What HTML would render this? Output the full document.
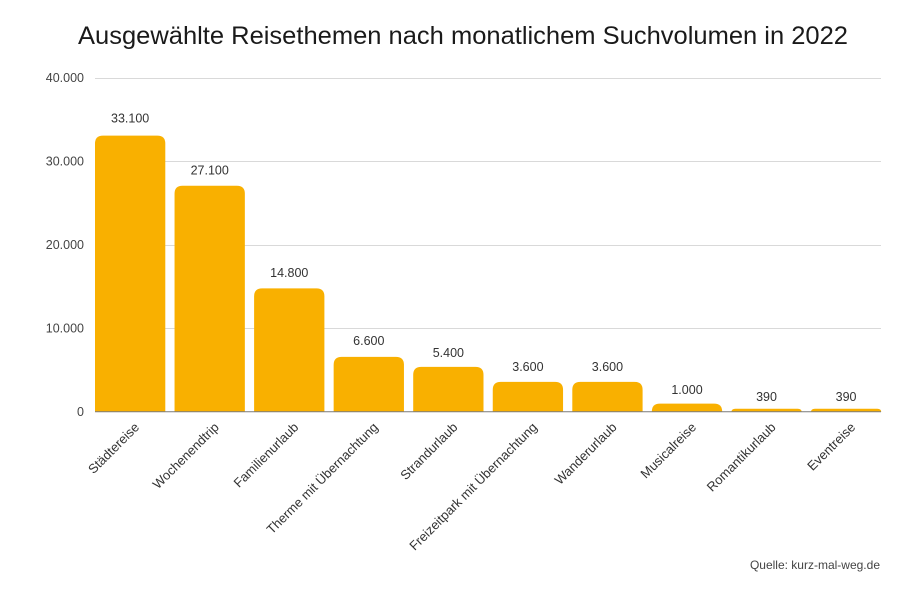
<!DOCTYPE html>
<html>
<head>
<meta charset="utf-8">
<style>
  html,body{margin:0;padding:0;background:#fff;}
  svg{display:block;}
  text{font-family:"Liberation Sans",Arial,sans-serif;}
</style>
</head>
<body>
<svg width="908" height="596" viewBox="0 0 908 596" xmlns="http://www.w3.org/2000/svg">
  <rect width="908" height="596" fill="#fff"/>
  <!-- Title -->
  <text x="78" y="44" font-size="25" fill="#1a1a1a" textLength="770" lengthAdjust="spacingAndGlyphs">Ausgewählte Reisethemen nach monatlichem Suchvolumen in 2022</text>

  <!-- Gridlines -->
  <g stroke="#d9d9d9" stroke-width="1">
    <line x1="95" y1="78.5" x2="881" y2="78.5"/>
    <line x1="95" y1="161.5" x2="881" y2="161.5"/>
    <line x1="95" y1="245.5" x2="881" y2="245.5"/>
    <line x1="95" y1="328.5" x2="881" y2="328.5"/>
  </g>

  <!-- Y labels -->
  <g font-size="12.5" fill="#444" text-anchor="end">
    <text x="84" y="82">40.000</text>
    <text x="84" y="165.5">30.000</text>
    <text x="84" y="249">20.000</text>
    <text x="84" y="332.5">10.000</text>
    <text x="84" y="416">0</text>
  </g>

  <!-- Bars -->
  <g fill="#F9B000">
    <path d="M95,412 V143.6 Q95,135.6 103,135.6 H157.3 Q165.3,135.6 165.3,143.6 V412 Z"/>
    <path d="M174.55,412 V193.7 Q174.55,185.7 182.55,185.7 H236.85 Q244.85,185.7 244.85,193.7 V412 Z"/>
    <path d="M254.1,412 V296.4 Q254.1,288.4 262.1,288.4 H316.4 Q324.4,288.4 324.4,296.4 V412 Z"/>
    <path d="M333.65,412 V364.9 Q333.65,356.9 341.65,356.9 H395.95 Q403.95,356.9 403.95,364.9 V412 Z"/>
    <path d="M413.2,412 V374.9 Q413.2,366.9 421.2,366.9 H475.5 Q483.5,366.9 483.5,374.9 V412 Z"/>
    <path d="M492.75,412 V389.9 Q492.75,381.9 500.75,381.9 H555.05 Q563.05,381.9 563.05,389.9 V412 Z"/>
    <path d="M572.3,412 V389.9 Q572.3,381.9 580.3,381.9 H634.6 Q642.6,381.9 642.6,389.9 V412 Z"/>
    <path d="M651.85,412 V411.65 Q651.85,403.65 659.85,403.65 H714.15 Q722.15,403.65 722.15,411.65 V412 Z"/>
    <path d="M731.4,412 Q731.4,408.7 735.4,408.7 H797.7 Q801.7,408.7 801.7,412 Z"/>
    <path d="M810.95,412 Q810.95,408.7 814.95,408.7 H877.25 Q881.25,408.7 881.25,412 Z"/>
  </g>

  <!-- Baseline -->
  <line x1="95" y1="411.8" x2="881" y2="411.8" stroke="#7a7a7a" stroke-width="1"/>

  <!-- Value labels -->
  <g font-size="12.5" fill="#333" text-anchor="middle">
    <text x="130.15" y="122.5">33.100</text>
    <text x="209.7" y="174.5">27.100</text>
    <text x="289.25" y="277.2">14.800</text>
    <text x="368.8" y="345.2">6.600</text>
    <text x="448.35" y="357.2">5.400</text>
    <text x="527.9" y="371.2">3.600</text>
    <text x="607.45" y="371.2">3.600</text>
    <text x="687" y="393.8">1.000</text>
    <text x="766.55" y="401.2">390</text>
    <text x="846.1" y="401.2">390</text>
  </g>

  <!-- X labels -->
  <g font-size="13" fill="#333" text-anchor="end">
    <text transform="translate(140,428) rotate(-45)">Städtereise</text>
    <text transform="translate(219.7,428) rotate(-45)">Wochenendtrip</text>
    <text transform="translate(299.25,428) rotate(-45)">Familienurlaub</text>
    <text transform="translate(378.8,428) rotate(-45)">Therme mit Übernachtung</text>
    <text transform="translate(458.35,428) rotate(-45)">Strandurlaub</text>
    <text transform="translate(537.9,428) rotate(-45)">Freizeitpark mit Übernachtung</text>
    <text transform="translate(617.45,428) rotate(-45)">Wanderurlaub</text>
    <text transform="translate(697,428) rotate(-45)">Musicalreise</text>
    <text transform="translate(776.55,428) rotate(-45)">Romantikurlaub</text>
    <text transform="translate(856.1,428) rotate(-45)">Eventreise</text>
  </g>

  <!-- Source -->
  <text x="880" y="569" font-size="12" fill="#444" text-anchor="end">Quelle: kurz-mal-weg.de</text>
</svg>
</body>
</html>
